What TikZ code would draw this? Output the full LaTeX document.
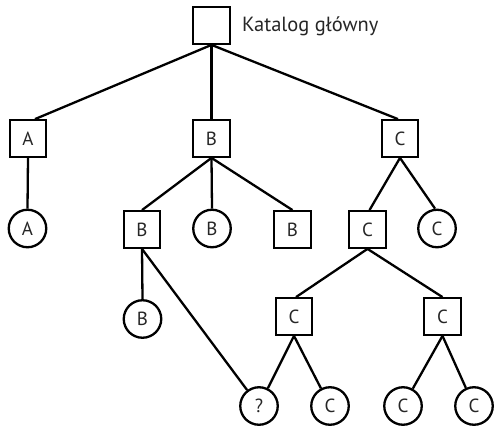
\documentclass[tikz,border=0pt]{standalone}
\usepackage{fontspec}
\setmainfont{PT Sans}
\begin{document}
\begin{tikzpicture}[x=1pt,y=-1pt,
  every node/.style={font=\fontsize{19}{21}\selectfont, inner sep=0pt, text=black!85},
  dirbox/.style={draw=black, line width=2.3pt, minimum size=36.5pt},
  filenode/.style={draw=black, circle, line width=2.3pt, minimum size=37.5pt},
  link/.style={line width=2.3pt}]
\useasboundingbox (0,0) rectangle (494,427);

% directories
\node[dirbox] (root) at (211.5,25.5) {};
\node[anchor=west, font=\fontsize{20.5}{22}\selectfont] (rootlabel) at (242,26) {Katalog główny};
\node[dirbox] (A) at (28,138.5) {A};
\node[dirbox] (B) at (211.5,138.5) {B};
\node[dirbox] (C) at (400,138.5) {C};
\node[dirbox] (B1) at (142,229.5) {B};
\node[dirbox] (B3) at (292.5,229.5) {B};
\node[dirbox] (C1) at (367.5,229.5) {C};
\node[dirbox] (C11) at (294,316.5) {C};
\node[dirbox] (C12) at (442.5,316.5) {C};

% files
\node[filenode] (a) at (27.5,228.5) {A};
\node[filenode] (b2) at (212,228.5) {B};
\node[filenode] (c2) at (437,228.5) {C};
\node[filenode] (b11) at (142.5,319) {B};
\node[filenode] (q) at (259,406) {?};
\node[filenode] (c111) at (330,406) {C};
\node[filenode] (c121) at (403,406) {C};
\node[filenode] (c122) at (474,406) {C};

% links
\draw[link] (root.south) -- ([xshift=7pt]A.north);
\draw[link] (root.south) -- (B.north);
\draw[link] (root.south) -- ([xshift=-2pt]C.north);
\draw[link] (A.south) -- (a.north);
\draw[link] (B.south) -- (B1.north);
\draw[link] (B.south) -- (b2.north);
\draw[link] (B.south) -- (B3.north);
\draw[link] (C.south) -- ([xshift=2pt]C1.north);
\draw[link] (C.south) -- ([xshift=-2pt]c2.north);
\draw[link] (B1.south) -- (b11.north);
\draw[link] (B1.south) -- (q);
\draw[link] (C1.south) -- ([xshift=2pt]C11.north);
\draw[link] (C1.south) -- (C12.north);
\draw[link] (C11.south) -- (q);
\draw[link] (C11.south) -- (c111);
\draw[link] (C12.south) -- (c121);
\draw[link] (C12.south) -- (c122);
\end{tikzpicture}
\end{document}
